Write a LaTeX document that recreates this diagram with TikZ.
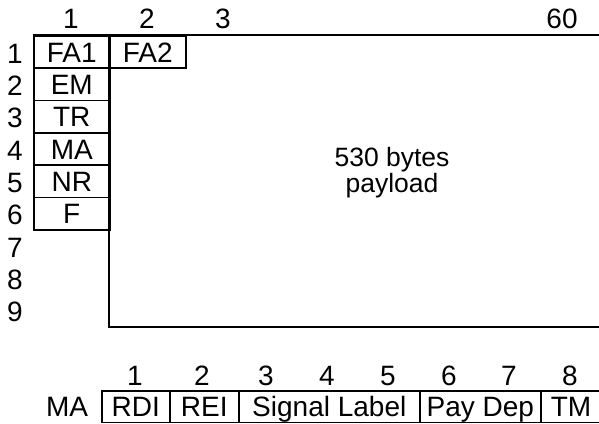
\documentclass[tikz,border=0pt]{standalone}
\usepackage{fontspec}
\setmainfont{Liberation Sans}
\usetikzlibrary{positioning}

\tikzset{
    frame/.style={line width=1.6pt, black},
    cell/.style={draw=black, line width=1.6pt, inner sep=0pt, text height=20pt, text depth=0pt, anchor=north west},
    num/.style={inner sep=0pt, text height=20pt, text depth=0pt},
}

\begin{document}
\begin{tikzpicture}[x=1pt, y=-1pt, font=\fontsize{28}{32}\selectfont]
\useasboundingbox (0,0) rectangle (599,423);

% payload area
\coordinate (tl) at (33,35);
\coordinate (tr) at (599,35);
\coordinate (ml) at (109,35);
\coordinate (bl) at (109,326.7);
\coordinate (br) at (599,326.7);
\draw[frame] (tl) -- (tr);
\draw[frame] (ml) -- (bl) -- (br);

% overhead bytes
\foreach \t [count=\i] in {FA1,EM,TR,MA,NR,F} {
    \node[cell, minimum width=76pt, minimum height=32.4pt] (oh\i) at (33,{35+32.37*(\i-1)}) {\t};
}
\node[cell, minimum width=76pt, minimum height=32.4pt] (fa2) at (109,35) {FA2};

% row and column numbers
\foreach \i in {1,...,9} {
    \node[num] (row\i) at (15,{53+32.37*(\i-1)}) {\i};
}
\node[num] (col1) at (71,18.5) {1};
\node[num] (col2) at (147,18.5) {2};
\node[num] (col3) at (223,18.5) {3};
\node[num] (col60) at (562,18.5) {60};

\node[anchor=base, inner sep=0pt, font=\fontsize{26.5}{26}\selectfont] (pl1) at (392,166.7) {530 bytes};
\node[anchor=base, inner sep=0pt, font=\fontsize{26.5}{26}\selectfont] (pl2) at (392,192.7) {payload};

% MA byte
\node[num] (ma) at (67,406) {MA};
\foreach \a/\b/\t/\n in {101/169/RDI/rdi, 169/238/REI/rei, 238/419/Signal Label/sig, 419/540/Pay Dep/pay, 540/600.5/TM/tm} {
    \node[cell, minimum width={\b-\a}, minimum height=31.7pt] (\n) at (\a,390) {\t};
}
\foreach \x [count=\i] in {135,202,266,327,388,449,509,570} {
    \node[num] (bit\i) at (\x,375) {\i};
}
\end{tikzpicture}
\end{document}
